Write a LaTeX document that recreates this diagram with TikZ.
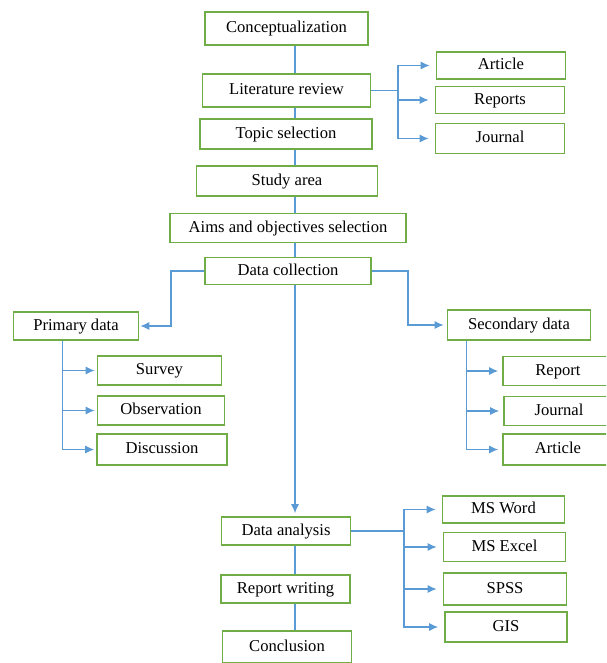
\documentclass[tikz,border=0pt]{standalone}
\usepackage{fontspec}
\setmainfont{Liberation Serif}
\usetikzlibrary{positioning, arrows, arrows.meta}
\definecolor{boxgreen}{HTML}{70AD47}
\definecolor{linkblue}{HTML}{5B9BD5}
\begin{document}
\begin{tikzpicture}[x=1pt,y=-1pt,
		box/.style={draw=boxgreen,line width=1.6pt,inner sep=0pt,text height=11.5pt,text depth=3pt,font=\fontsize{16.6}{19}\selectfont},
		link/.style={draw=linkblue,line width=1.2pt},
		tip/.style={-{Latex[length=9pt,width=8pt]}}]
	\useasboundingbox (0,0) rectangle (606,663);
	\clip (0,0) rectangle (606,663);
	% main column
	\node[box,minimum width=163pt,minimum height=33pt] (m1) at (286.5,28.5) {Conceptualization};
	\node[box,minimum width=168pt,minimum height=33pt] (m2) at (286.5,90.5) {Literature review};
	\node[box,minimum width=172pt,minimum height=30pt] (m3) at (286,134) {Topic selection};
	\node[box,minimum width=181pt,minimum height=30pt] (m4) at (287,181) {Study area};
	\node[box,minimum width=236pt,minimum height=29pt] (m5) at (288,228) {Aims and objectives selection};
	\node[box,minimum width=166pt,minimum height=27pt] (m6) at (288,271) {Data collection};
	\node[box,minimum width=129pt,minimum height=28pt] (m7) at (286,531) {Data analysis};
	\node[box,minimum width=129pt,minimum height=28pt] (m8) at (285.5,589) {Report writing};
	\node[box,minimum width=129pt,minimum height=32pt] (m9) at (287,647) {Conclusion};
	% literature sources
	\node[box,minimum width=129pt,minimum height=27pt] (l1) at (501,65.5) {Article};
	\node[box,minimum width=129pt,minimum height=27pt] (l2) at (500,100) {Reports};
	\node[box,minimum width=129pt,minimum height=30pt] (l3) at (500,138.5) {Journal};
	% primary data
	\node[box,minimum width=125pt,minimum height=28pt] (p0) at (76,326) {Primary data};
	\node[box,minimum width=124pt,minimum height=29pt] (p1) at (159.5,370.5) {Survey};
	\node[box,minimum width=127pt,minimum height=29pt] (p2) at (161,410.5) {Observation};
	\node[box,minimum width=130pt,minimum height=31pt] (p3) at (162,449.5) {Discussion};
	% secondary data
	\node[box,minimum width=143pt,minimum height=30pt] (s0) at (519,325) {Secondary data};
	\node[box,minimum width=110pt,minimum height=29pt] (s1) at (558,371) {Report};
	\node[box,minimum width=110pt,minimum height=29pt] (s2) at (559,411) {Journal};
	\node[box,minimum width=110pt,minimum height=31pt] (s3) at (558,449.5) {Article};
	% tools
	\node[box,minimum width=122pt,minimum height=27pt] (t1) at (503.5,509.5) {MS Word};
	\node[box,minimum width=122pt,minimum height=29pt] (t2) at (504.5,547) {MS Excel};
	\node[box,minimum width=123pt,minimum height=32pt] (t3) at (505,589) {SPSS};
	\node[box,minimum width=122pt,minimum height=30pt] (t4) at (506,627) {GIS};

	\coordinate (spine) at (295,0);
	\coordinate (lfork) at (398,0);
	\coordinate (dcl) at (171,0);
	\coordinate (dcr) at (408,0);
	\coordinate (pfork) at (62.5,0);
	\coordinate (sfork) at (466.5,0);
	\coordinate (tfork) at (404,0);

	\foreach \a/\b in {m1/m2,m2/m3,m3/m4,m4/m5,m5/m6,m7/m8,m8/m9}
		\draw[link] (\a.south -| spine) -- (\b.north -| spine);
	\draw[link,tip,shorten >=3pt] (m6.south -| spine) -- (m7.north -| spine);

	\draw[link] (m2.east) -- (m2.east -| lfork);
	\foreach \t in {l1,l2,l3}
		\draw[link,tip,shorten >=6pt] (m2.east -| lfork) |- (\t.west);

	\draw[link,tip,shorten >=1pt] (m6.west) -- (m6.west -| dcl) |- (p0.east);
	\draw[link,tip,shorten >=3pt] (m6.east) -- (m6.east -| dcr) |- (s0.west);

	\foreach \t in {p1,p2,p3}
		\draw[link,tip,shorten >=2pt] (p0.south -| pfork) |- (\t.west);
	\foreach \t in {s1,s2,s3}
		\draw[link,tip,shorten >=4pt] (s0.south -| sfork) |- (\t.west);

	\draw[link] (m7.east) -- (m7.east -| tfork);
	\foreach \t in {t1,t2,t3,t4}
		\draw[link,tip,shorten >=6pt] (m7.east -| tfork) |- (\t.west);
\end{tikzpicture}
\end{document}
